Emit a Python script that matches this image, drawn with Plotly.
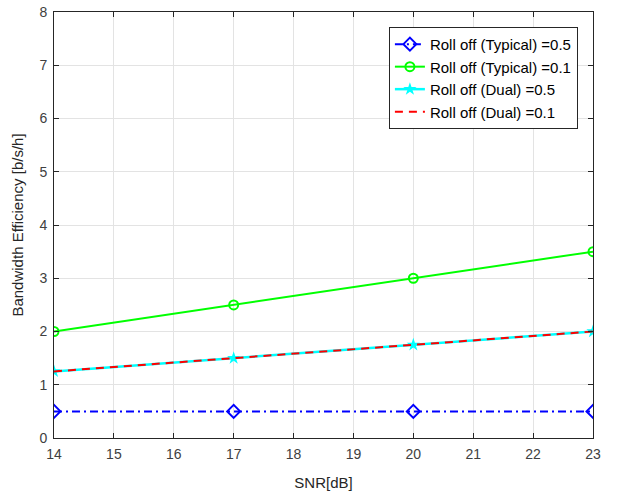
import plotly.graph_objects as go

snr = [14, 17, 20, 23]
typ_05 = [0.5, 0.5, 0.5, 0.5]
typ_01 = [2.0, 2.5, 3.0, 3.5]
dual_05 = [1.25, 1.5, 1.75, 2.0]
dual_01 = [1.25, 1.5, 1.75, 2.0]
names = ["Roll off (Typical) =0.5", "Roll off (Typical) =0.1",
         "Roll off (Dual) =0.5", "Roll off (Dual) =0.1"]

fig = go.Figure()
fig.add_trace(go.Scatter(x=snr, y=typ_05, name=names[0], mode="lines+markers",
                         line=dict(color="#0000ff", width=2, dash="8px,4px,2px,4px"),
                         marker=dict(symbol="diamond-open", size=10, color="#0000ff",
                                     line=dict(width=2))))
fig.add_trace(go.Scatter(x=snr, y=typ_01, name=names[1], mode="lines+markers",
                         line=dict(color="#00ff00", width=2),
                         marker=dict(symbol="circle-open", size=9, color="#00ff00",
                                     line=dict(width=2))))
fig.add_trace(go.Scatter(x=snr, y=dual_05, name=names[2], mode="lines+markers",
                         line=dict(color="#00ffff", width=2.5),
                         marker=dict(symbol="star", size=10, color="#00ffff")))
fig.add_trace(go.Scatter(x=snr, y=dual_01, name=names[3], mode="lines",
                         line=dict(color="#ff0000", width=2, dash="8px,6px")))

axis_common = dict(showline=True, linecolor="#262626", linewidth=1, mirror="ticks",
                   ticks="inside", ticklen=5, tickcolor="#262626", automargin=False,
                   showgrid=True, gridcolor="#e3e3e3", gridwidth=1, zeroline=False,
                   ticklabelstandoff=3,
                   tickfont=dict(family="Liberation Sans, Arial", size=14, color="#404040"),
                   title_font=dict(family="Liberation Sans, Arial", size=15, color="#262626"))

fig.update_layout(
    width=619, height=491,
    margin=dict(l=54, r=26, t=12, b=53),
    paper_bgcolor="white", plot_bgcolor="white",
    xaxis=dict(range=[14, 23], dtick=1, title=dict(text="SNR[dB]", standoff=16), **axis_common),
    yaxis=dict(range=[0, 8], dtick=1, title=dict(text="Bandwidth Efficiency [b/s/h]", standoff=12), **axis_common),
    legend=dict(x=0.972, y=0.965, xanchor="right", yanchor="top",
                bgcolor="white", bordercolor="#262626", borderwidth=1,
                font=dict(family="Liberation Sans, Arial", size=15, color="#000000"),
                tracegroupgap=0, itemwidth=30),
    showlegend=True,
)

fig.write_html("out.html")
